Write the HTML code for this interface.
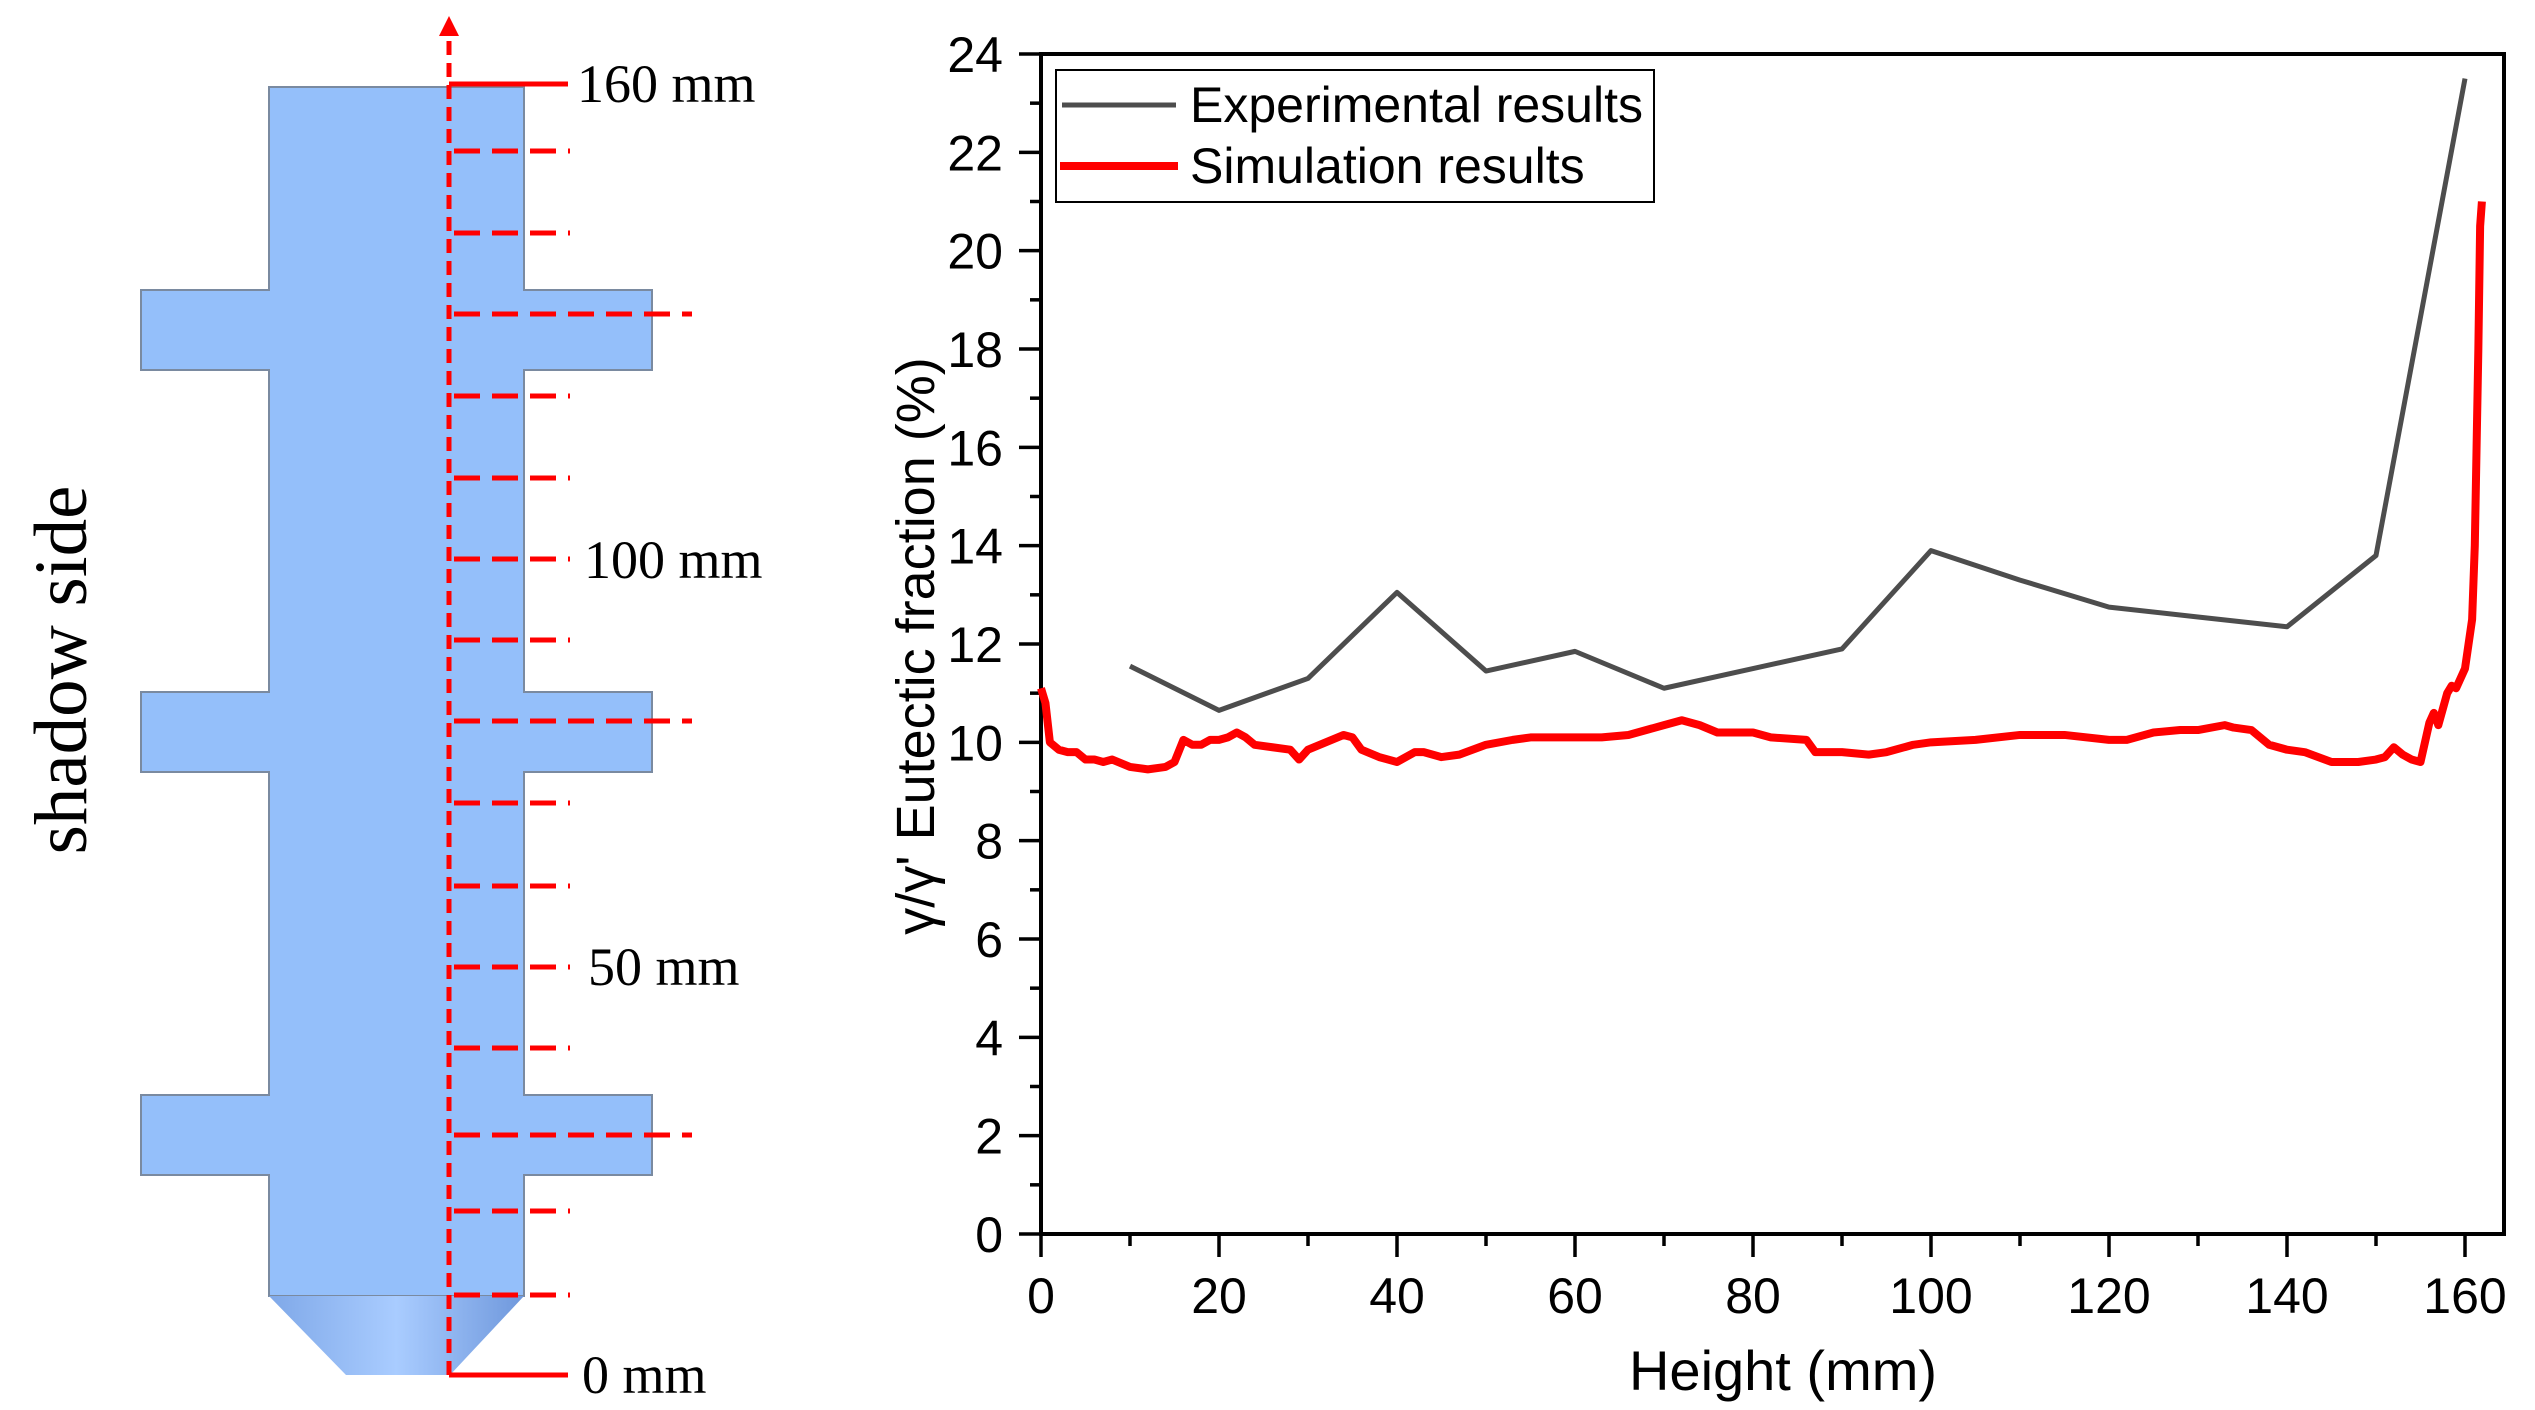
<!DOCTYPE html>
<html><head><meta charset="utf-8">
<style>
html,body{margin:0;padding:0;background:#fff;}
svg{display:block;}
.serif{font-family:"Liberation Serif","DejaVu Serif",serif;}
.sans{font-family:"Liberation Sans","DejaVu Sans",sans-serif;}
</style></head>
<body>
<svg id="svg" width="2535" height="1410" viewBox="0 0 2535 1410" xmlns="http://www.w3.org/2000/svg">
  <defs>
    <linearGradient id="cone" x1="0" x2="1" y1="0" y2="0">
      <stop offset="0" stop-color="#7fa8e8"/><stop offset="0.5" stop-color="#a9ccff"/><stop offset="1" stop-color="#6f98dc"/>
    </linearGradient>
  </defs>
  <g id="diagram">
    <path d="M269,87 H524 V290 H652 V370 H524 V692 H652 V772 H524 V1095 H652 V1175 H524 V1296 H269 V1175 H141 V1095 H269 V772 H141 V692 H269 V370 H141 V290 H269 Z" fill="#94bffa" stroke="#7a8aa0" stroke-width="2"/>
    <path d="M269,1296 H524 L450,1375 H346 Z" fill="url(#cone)"/>
    <line x1="449" y1="1375" x2="449" y2="30" stroke="#f00" stroke-width="5" stroke-dasharray="14,8"/>
    <path d="M449,16 L439,36 L459,36 Z" fill="#f00"/>
    <line x1="449" y1="84" x2="568" y2="84" stroke="#f00" stroke-width="5"/>
    <line x1="449" y1="1375" x2="568" y2="1375" stroke="#f00" stroke-width="5"/>
    <g id="dashes"></g>
    <text class="serif" x="577" y="102" font-size="54">160 mm</text>
    <text class="serif" x="584" y="578" font-size="54">100 mm</text>
    <text class="serif" x="588" y="985" font-size="54">50 mm</text>
    <text class="serif" x="582" y="1393" font-size="54">0 mm</text>
    <text class="serif" x="0" y="0" font-size="75" text-anchor="middle" transform="translate(86,670) rotate(-90)">shadow side</text>
  </g>
  <g id="chart"></g>
</svg>
<script>
const dashYs=[151,233,314,396,478,559,640,721,803,886,967,1048,1135,1211,1295];
const longDash=[314,721,1135];
const NS="http://www.w3.org/2000/svg";
function mk(tag,attrs,parent){const e=document.createElementNS(NS,tag);for(const k in attrs)e.setAttribute(k,attrs[k]);parent.appendChild(e);return e;}
const dg=document.getElementById('dashes');
dashYs.forEach(y=>{const l=mk('line',{x1:454,y1:y,x2:longDash.includes(y)?692:570,y2:y,stroke:'#f00','stroke-width':5,'stroke-dasharray':'26,12'},dg);

});

// chart data
const expX=[10,20,30,40,50,60,70,80,90,100,110,120,130,140,150,160];
const expY=[11.55,10.65,11.3,13.05,11.45,11.85,11.1,11.5,11.9,13.9,13.3,12.75,12.55,12.35,13.8,23.5];
const simX=[0,0.5,1,2,3,4,5,6,7,8,10,12,14,15,16,17,18,19,20,21,22,23,24,26,28,29,30,32,34,35,36,38,40,42,43,45,47,50,53,55,60,63,66,70,72,74,76,80,82,86,87,90,93,95,98,100,105,110,115,120,122,125,128,130,133,134,136,138,140,142,145,148,150,151,152,153,154,155,156,156.5,157,158,158.5,159,160,160.8,161.1,161.3,161.5,161.7,161.9];
const simY=[11.1,10.8,10.0,9.85,9.8,9.8,9.65,9.65,9.6,9.65,9.5,9.45,9.5,9.6,10.05,9.95,9.95,10.05,10.05,10.1,10.2,10.1,9.95,9.9,9.85,9.65,9.85,10.0,10.15,10.1,9.85,9.7,9.6,9.8,9.8,9.7,9.75,9.95,10.05,10.1,10.1,10.1,10.15,10.35,10.45,10.35,10.2,10.2,10.1,10.05,9.8,9.8,9.75,9.8,9.95,10.0,10.05,10.15,10.15,10.05,10.05,10.2,10.25,10.25,10.35,10.3,10.25,9.95,9.85,9.8,9.6,9.6,9.65,9.7,9.9,9.75,9.65,9.6,10.4,10.6,10.35,11.0,11.15,11.1,11.5,12.5,14,16,18,20.5,21.0];
const xTicks=[0,20,40,60,80,100,120,140,160];
const yTicks=[0,2,4,6,8,10,12,14,16,18,20,22,24];

const L=1041,R=2504,T=54,B=1234;
const xs=v=>L+v*(2465-L)/160;
const ys=v=>B-v*(B-T)/24;
const g=document.getElementById('chart');

const frame=mk('rect',{x:L,y:T,width:R-L,height:B-T,fill:'none',stroke:'#000','stroke-width':4},g);



for(let v=0;v<=24;v+=1){const major=v%2===0;
 const t=mk('line',{x1:L-(major?22:11),y1:ys(v),x2:L,y2:ys(v),stroke:'#000','stroke-width':3.5},g);
 
 }
yTicks.forEach(v=>{const t=mk('text',{x:1003,y:ys(v)+18,'font-size':50,'text-anchor':'end',class:'sans'},g);t.textContent=v;
 
 });
for(let v=0;v<=160;v+=10){const major=v%20===0;
 const t=mk('line',{x1:xs(v),y1:B,x2:xs(v),y2:B+(major?23:12),stroke:'#000','stroke-width':3.5},g);
 
 }
xTicks.forEach(v=>{const t=mk('text',{x:xs(v),y:1313,'font-size':50,'text-anchor':'middle',class:'sans'},g);t.textContent=v;
 
 });

const xt=mk('text',{x:1783,y:1390,'font-size':56,'text-anchor':'middle',class:'sans'},g);xt.textContent='Height (mm)';


const yt=mk('text',{x:0,y:0,'font-size':54,'text-anchor':'middle',class:'sans',transform:'translate(934,646) rotate(-90)'},g);yt.textContent="γ/γ' Eutectic fraction (%)";



const ep=mk('polyline',{points:expX.map((x,i)=>xs(x)+','+ys(expY[i])).join(' '),fill:'none',stroke:'#4d4d4d','stroke-width':5,'stroke-linejoin':'round'},g);


const sp=mk('polyline',{points:simX.map((x,i)=>xs(x)+','+ys(simY[i])).join(' '),fill:'none',stroke:'#ff0000','stroke-width':8,'stroke-linejoin':'round'},g);



const lg=mk('g',{},g);


mk('rect',{x:1056,y:70,width:598,height:132,fill:'#fff',stroke:'#000','stroke-width':2},lg);
mk('line',{x1:1062,y1:105,x2:1176,y2:105,stroke:'#4d4d4d','stroke-width':5},lg);
mk('line',{x1:1060,y1:166,x2:1178,y2:166,stroke:'#ff0000','stroke-width':8},lg);
const l1=mk('text',{x:1190,y:122,'font-size':50,class:'sans'},lg);l1.textContent='Experimental results';


const l2=mk('text',{x:1190,y:183,'font-size':50,class:'sans'},lg);l2.textContent='Simulation results';


</script>
</body></html>
